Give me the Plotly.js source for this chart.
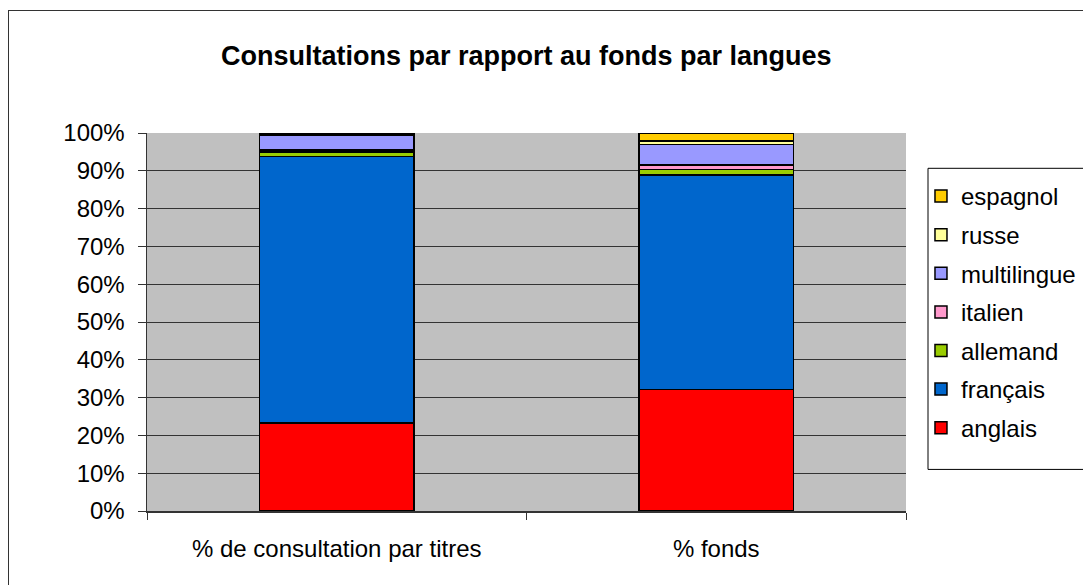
<!DOCTYPE html>
<html>
<head>
<meta charset="utf-8">
<script src="https://cdn.plot.ly/plotly-3.0.1.min.js"></script>
<style>
html,body{margin:0;padding:0;background:#fff;overflow:hidden;}
#wrap{position:relative;width:1083px;height:585px;}
#chart{width:1083px;height:585px;}
#frame{position:absolute;left:8px;top:10px;width:1100px;height:600px;border-left:1px solid #333;border-top:1px solid #333;pointer-events:none;}
</style>
</head>
<body>
<div id="wrap"><div id="chart"></div><div id="frame"></div></div>
<script>
const categories = ["% de consultation par titres", "% fonds"];
const anglais     = [23.3, 32.2];
const francais    = [70.5, 56.7];
const allemand    = [1.2, 1.5];
const italien     = [0.5, 1.1];
const multilingue = [4.0, 5.4];
const russe       = [0.2, 1.0];
const espagnol    = [0.3, 2.1];
const yTicks = [0,10,20,30,40,50,60,70,80,90,100];

const series = [
  {name: "anglais", values: anglais, color: "#FF0000"},
  {name: "français", values: francais, color: "#0066CC"},
  {name: "allemand", values: allemand, color: "#99CC00"},
  {name: "italien", values: italien, color: "#FF99CC"},
  {name: "multilingue", values: multilingue, color: "#9999FF"},
  {name: "russe", values: russe, color: "#FFFF99"},
  {name: "espagnol", values: espagnol, color: "#FFCC00"}
];

const traces = series.map((s, i) => ({
  type: "bar",
  name: s.name,
  x: categories,
  y: s.values,
  legendgroup: "g" + i,
  legendrank: series.length - i,
  marker: {color: s.color, line: {color: "#000000", width: 1.5}},
  hoverinfo: "name+y"
}));

const FONT = "Liberation Sans, Arial, sans-serif";

const layout = {
  width: 1083, height: 585,
  margin: {l: 147, r: 177, t: 133, b: 74, pad: 0},
  paper_bgcolor: "#ffffff",
  plot_bgcolor: "#C0C0C0",
  barmode: "stack",
  bargap: 0.594,
  font: {family: FONT, size: 24, color: "#000"},
  title: {
    text: "<b>Consultations par rapport au fonds par langues</b>",
    font: {size: 27, family: FONT, color: "#000"},
    x: 0.486, xref: "container", xanchor: "center",
    y: 0.905, yref: "container", yanchor: "middle"
  },
  xaxis: {
    type: "category",
    tickson: "boundaries",
    ticks: "outside", ticklen: 7, tickcolor: "#333",
    showline: true, linecolor: "#333", linewidth: 1.5,
    showgrid: false,
    tickfont: {size: 24},
    ticklabelstandoff: 16,
    automargin: false
  },
  yaxis: {
    range: [0, 100],
    tickvals: yTicks,
    ticktext: yTicks.map(v => v + "%"),
    ticks: "outside", ticklen: 8, tickcolor: "#333",
    showline: true, linecolor: "#333", linewidth: 1.5,
    showgrid: true, gridcolor: "#333", gridwidth: 1,
    zeroline: false,
    tickfont: {size: 24},
    ticklabelstandoff: 8,
    automargin: false
  },
  shapes: [{
    type: "rect", xref: "paper", yref: "paper",
    x0: 1.029, x1: 1.6, y0: 0.110, y1: 0.9066,
    fillcolor: "#ffffff", line: {color: "#000", width: 1}, layer: "above"
  }],
  showlegend: true,
  legend: {
    traceorder: "grouped",
    xref: "container", yref: "container",
    x: 0.8504, xanchor: "left",
    y: 0.7026, yanchor: "top",
    bgcolor: "rgba(0,0,0,0)",
    borderwidth: 0,
    font: {size: 24},
    tracegroupgap: 4.4,
    itemwidth: 30
  }
};

Plotly.newPlot("chart", traces, layout, {staticPlot: true, displayModeBar: false});
</script>
</body>
</html>
